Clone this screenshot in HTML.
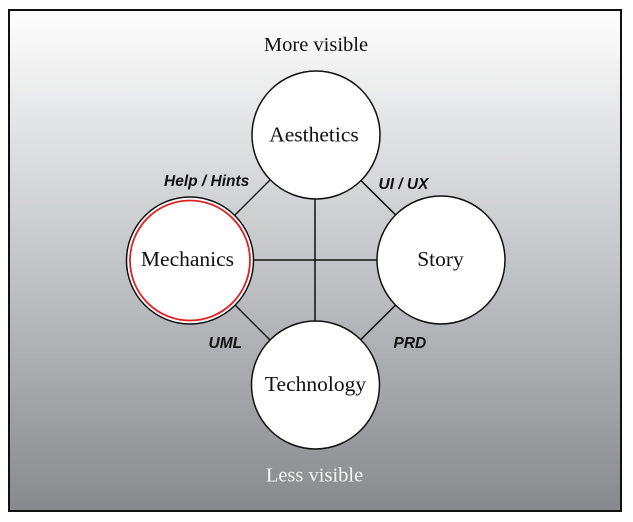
<!DOCTYPE html>
<html><head><meta charset="utf-8"><style>
html,body{margin:0;padding:0;background:#fff;width:633px;height:522px;overflow:hidden}
svg{display:block}
.serif{font-family:"Liberation Serif",serif;}
.lbl{font-family:"Liberation Sans",sans-serif;font-weight:bold;font-style:italic;font-size:15.5px;fill:#111}
</style></head><body>
<svg width="633" height="522" viewBox="0 0 633 522" xmlns="http://www.w3.org/2000/svg">
<defs>
<linearGradient id="bg" x1="0" y1="0" x2="0" y2="1">
<stop offset="0" stop-color="#fefefe"/>
<stop offset="0.5" stop-color="#c4c5c8"/>
<stop offset="1" stop-color="#88898d"/>
</linearGradient>
</defs>
<rect x="9" y="10" width="612" height="501" fill="url(#bg)" stroke="#111" stroke-width="2"/>
<g stroke="#111" stroke-width="1.5" fill="none">
<line x1="190" y1="260" x2="441" y2="260"/>
<line x1="315" y1="135" x2="315" y2="385"/>
<line x1="190" y1="260" x2="315" y2="135"/>
<line x1="315" y1="135" x2="441" y2="260"/>
<line x1="190" y1="260" x2="315" y2="385"/>
<line x1="441" y1="260" x2="315" y2="385"/>
</g>
<g fill="#fff" stroke="#111" stroke-width="1.5">
<circle cx="316" cy="135" r="64"/>
<circle cx="190" cy="260.5" r="63.5"/>
<circle cx="441" cy="260" r="64"/>
<circle cx="315.5" cy="385" r="64"/>
</g>
<circle cx="190" cy="260.5" r="60" fill="none" stroke="#e02020" stroke-width="1.8"/>
<g class="serif" font-size="21.5" fill="#111" text-anchor="middle">
<text x="314" y="141.5">Aesthetics</text>
<text x="187.5" y="266">Mechanics</text>
<text x="440.5" y="266">Story</text>
<text x="315.5" y="391">Technology</text>
</g>
<text class="serif" x="316" y="51" font-size="20.5" fill="#111" text-anchor="middle">More visible</text>
<text class="serif" x="314.5" y="481.5" font-size="20.5" fill="#f6f6f6" text-anchor="middle">Less visible</text>
<text class="lbl" x="164" y="186">Help / Hints</text>
<text class="lbl" x="378.5" y="189">UI / UX</text>
<text class="lbl" x="208.5" y="348">UML</text>
<text class="lbl" x="393.5" y="348">PRD</text>
</svg>
</body></html>
